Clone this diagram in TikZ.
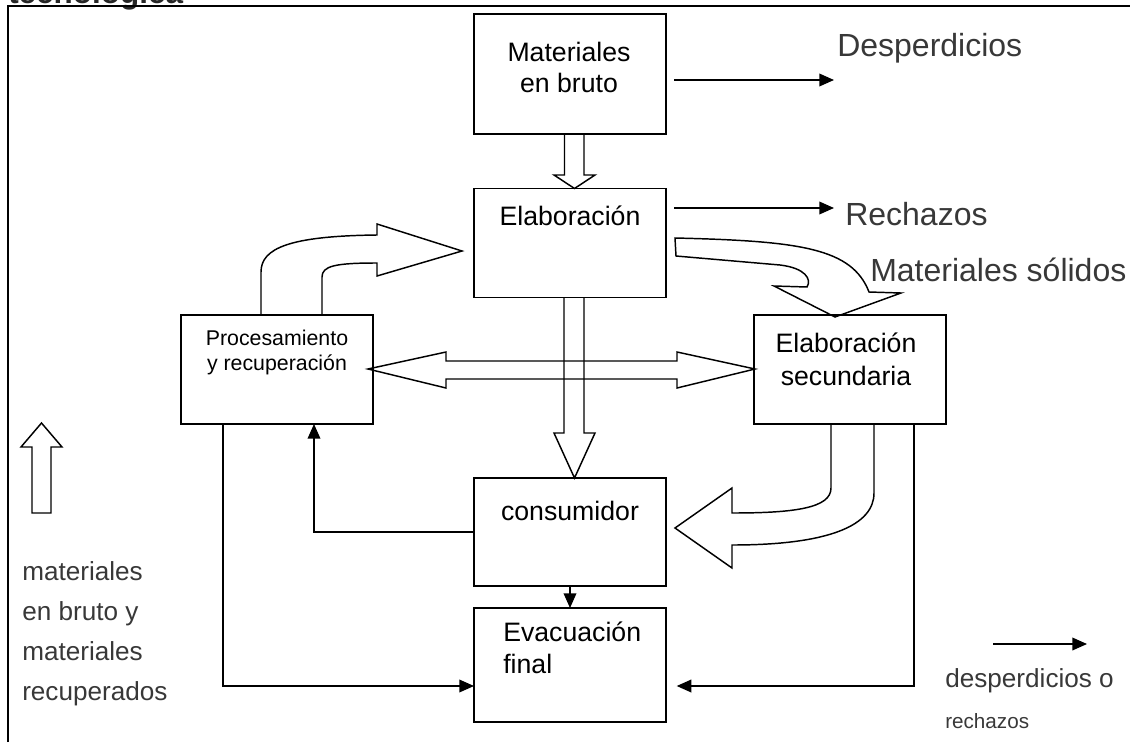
\documentclass[tikz,border=0pt]{standalone}
\usepackage{fontspec}
\setmainfont{Liberation Sans}
\usetikzlibrary{arrows.meta}

\begin{document}
\begin{tikzpicture}[x=0.75pt,y=-0.75pt,
  box/.style={draw, line width=1.2pt, rectangle, inner sep=0pt, outer sep=0pt,
              minimum width=144pt},
  blk/.style={draw, line width=1.1pt, line join=miter, miter limit=10},
  arr/.style={line width=1.1pt, -{Triangle[length=11pt,width=9.5pt]}},
  frame/.style={line width=1.5pt},
  btext/.style={inner sep=0pt, text=black, font=\fontsize{20}{24}\selectfont},
  stext/.style={inner sep=0pt, text=black, font=\fontsize{16}{19}\selectfont},
  biglabel/.style={inner sep=0pt, text=black!78, anchor=base west, font=\fontsize{24}{28}\selectfont},
  sidelabel/.style={inner sep=0pt, text=black!78, anchor=base west, font=\fontsize{19.6}{23}\selectfont},
  smalllabel/.style={inner sep=0pt, text=black!78, anchor=base west, font=\fontsize{15.5}{18}\selectfont}
]
\useasboundingbox (0,0) rectangle (1130,742);

% heading cut off at the top and the frame
\node[inner sep=0pt, anchor=base west, text=black!85,
      font=\bfseries\fontsize{23.6}{28}\selectfont] (ttl) at (8,4) {tecnológica};
\draw[frame] (8,742) -- (8,6) -- (1130,6);

% process boxes
\node[box, minimum height=90pt] (b1) at (570,74) {};
\node[box, minimum height=81.75pt] (b2) at (570,243) {};
\node[box, minimum height=81.75pt] (b3) at (277,369.5) {};
\node[box, minimum height=81.75pt] (b4) at (850,369.5) {};
\node[box, minimum height=81pt] (b5) at (570,532) {};
\node[box, minimum height=85.5pt] (b6) at (570,665) {};

% box texts
\node[btext, anchor=base] (t1a) at (569,62) {Materiales};
\node[btext, anchor=base] (t1b) at (569,92) {en bruto};
\node[btext, anchor=base] (t2) at (570,225) {Elaboración};
\node[stext, anchor=base] (t3a) at (277,345) {Procesamiento};
\node[stext, anchor=base] (t3b) at (277,370) {y recuperación};
\node[btext, anchor=base] (t4a) at (846,352) {Elaboración};
\node[btext, anchor=base] (t4b) at (846,385) {secundaria};
\node[btext, anchor=base] (t5) at (570,520) {consumidor};
\node[btext, anchor=base west] (t6a) at (503,641) {Evacuación};
\node[btext, anchor=base west] (t6b) at (503,673) {final};

% outer labels
\node[biglabel] (lDesp) at (837,57) {Desperdicios};
\node[biglabel] (lRech) at (845,225) {Rechazos};
\node[biglabel] (lSol) at (870,281) {Materiales sólidos};
\node[sidelabel] (lm1) at (22,580) {materiales};
\node[sidelabel] (lm2) at (22,620) {en bruto y};
\node[sidelabel] (lm3) at (22,660) {materiales};
\node[sidelabel] (lm4) at (22,700) {recuperados};
\node[sidelabel] (ld1) at (945,687) {desperdicios o};
\node[smalllabel] (ld2) at (945,728) {rechazos};

% thin connectors
\coordinate (dS) at (674,80);
\coordinate (dE) at (834,80);
\draw[arr] (dS) -- (dE);
\coordinate (rS) at (674,208);
\coordinate (rE) at (834,208);
\draw[arr] (rS) -- (rE);
\coordinate (kS) at (993,644);
\coordinate (kE) at (1087,644);
\draw[arr] (kS) -- (kE);

\draw[arr] (b5.west) -| ([xshift=27.75pt]b3.south);
\draw[arr] ([xshift=-40.5pt]b3.south) |- ([yshift=-15.75pt]b6.west);
\draw[arr] ([xshift=-24pt]b4.south east) |- ([xshift=8pt,yshift=-15.75pt]b6.east);
\draw[arr] (b5.south) -- (b6.north);

% hollow block arrows
\draw[blk] (564.5,134) -- (564.5,175) -- (554,175) -- (574.5,188.5) -- (595,175)
           -- (584,175) -- (584,134);
\draw[blk] (564,297.5) -- (564,433) -- (554,433) -- (574.5,478) -- (595,433)
           -- (584,433) -- (584,297.5);
\draw[blk] (368,369) -- (446,352) -- (446,361) -- (677,361) -- (677,352)
           -- (755,369) -- (677,388) -- (677,379) -- (446,379) -- (446,388) -- cycle;

% recovered material going back to the first elaboration
\draw[blk] (261,315) -- (261,272) .. controls (261,248) and (290,236) .. (377,235)
           -- (377,224) -- (462,251) -- (377,276) -- (377,263)
           .. controls (335,263) and (322,266) .. (322,277) -- (322,315);

% solid materials to the secondary elaboration
\draw[blk] (675,238) .. controls (800,241) and (852,248) .. (869,292)
           -- (901,293) -- (835,317) -- (774,286) -- (807,287)
           .. controls (812,279) and (805,268) .. (780,265) -- (676,256) -- cycle;

% secondary products to the consumer
\draw[blk] (831,424) -- (831,488) .. controls (831,508) and (795,513) .. (732,513)
           -- (732,488) -- (675,528) -- (732,568) -- (732,545)
           .. controls (830,545) and (874,525) .. (874,493) -- (874,424);

% legend arrow for raw and recovered materials
\draw[blk] (32,513) -- (32,447) -- (21,447) -- (41.5,423) -- (62,447)
           -- (51,447) -- (51,513) -- cycle;
\end{tikzpicture}
\end{document}
